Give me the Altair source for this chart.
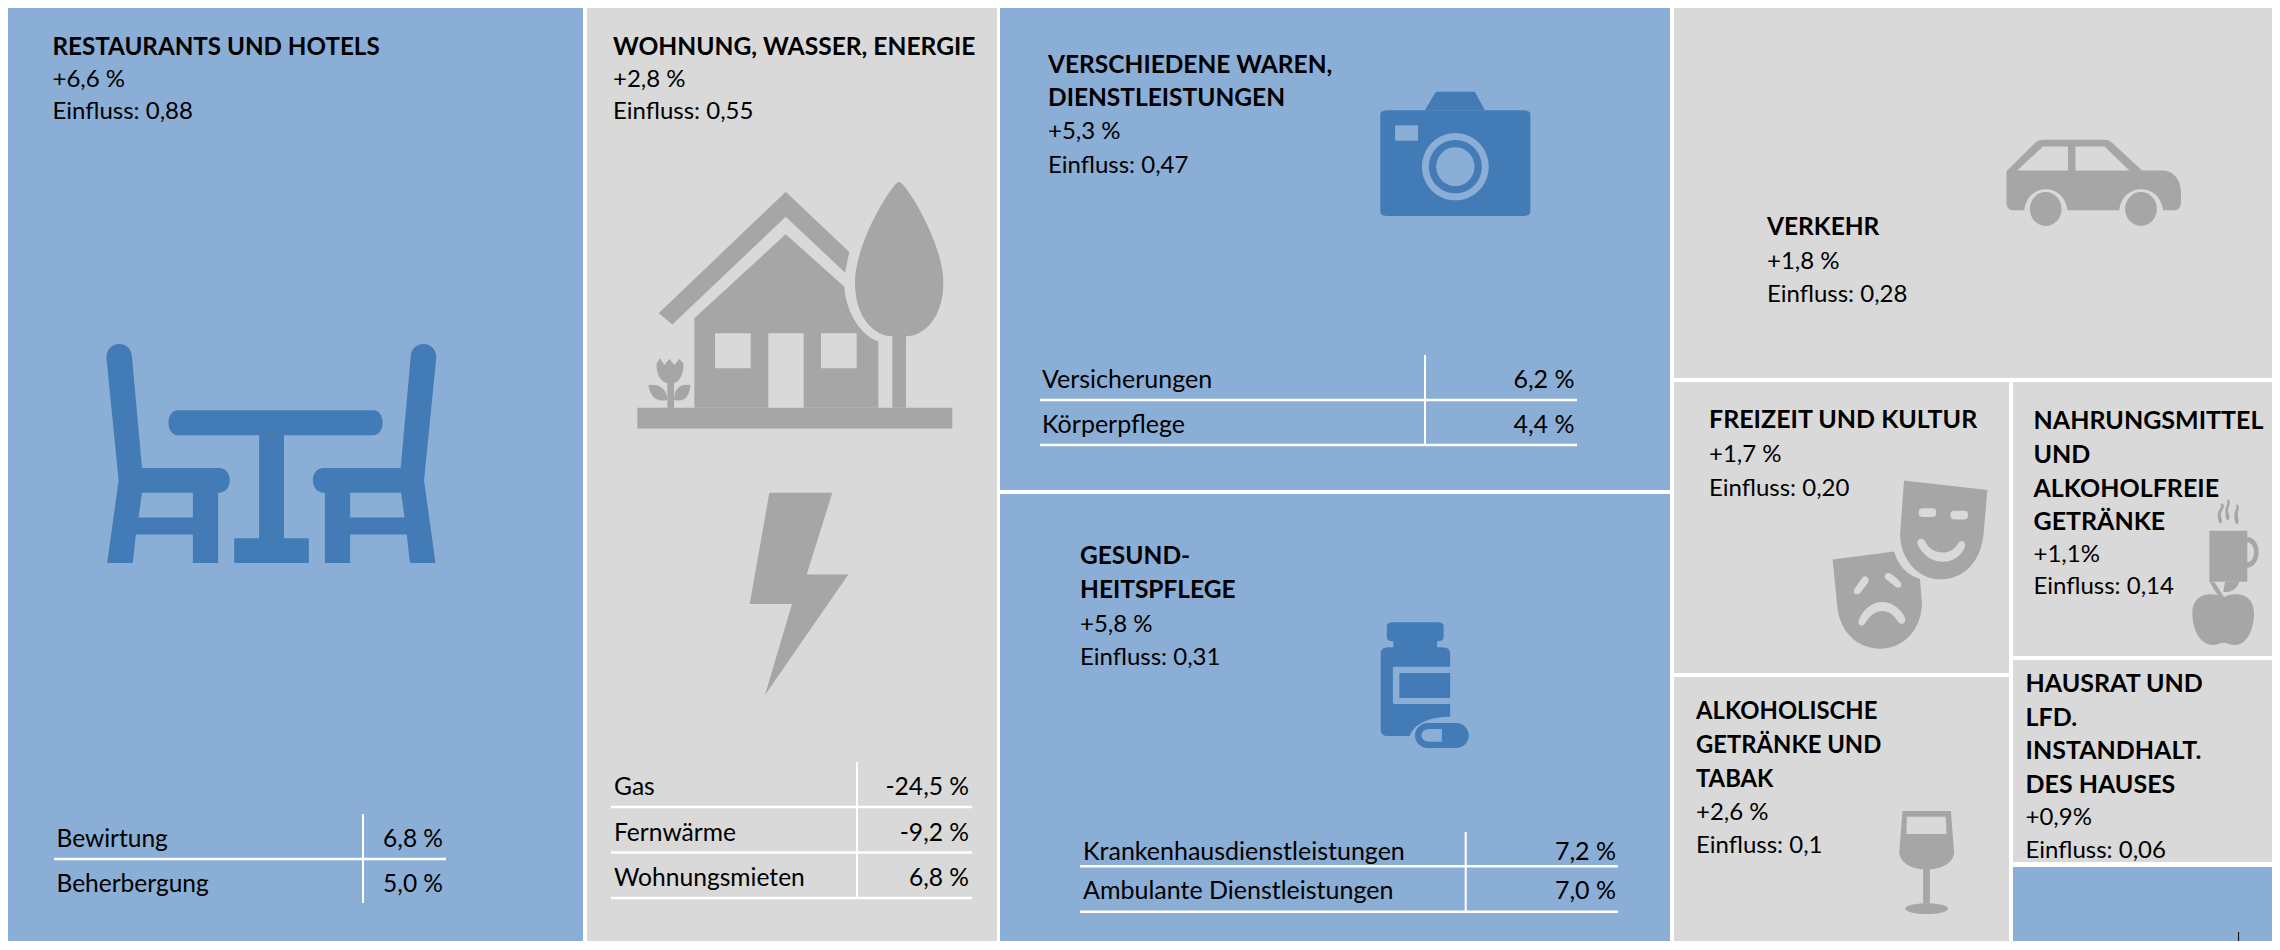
import re
import altair as alt
import pandas as pd

# ---- content -------------------------------------------------------------
categories = [
    ["RESTAURANTS UND HOTELS"],
    ["WOHNUNG, WASSER, ENERGIE"],
    ["VERSCHIEDENE WAREN,", "DIENSTLEISTUNGEN"],
    ["GESUND-", "HEITSPFLEGE"],
    ["VERKEHR"],
    ["FREIZEIT UND KULTUR"],
    ["NAHRUNGSMITTEL", "UND", "ALKOHOLFREIE", "GETRÄNKE"],
    ["ALKOHOLISCHE", "GETRÄNKE UND", "TABAK"],
    ["HAUSRAT UND", "LFD.", "INSTANDHALT.", "DES HAUSES"],
]
changes = ["+6,6 %", "+2,8 %", "+5,3 %", "+5,8 %", "+1,8 %", "+1,7 %", "+1,1%", "+2,6 %", "+0,9%"]
influences = ["Einfluss: 0,88", "Einfluss: 0,55", "Einfluss: 0,47", "Einfluss: 0,31", "Einfluss: 0,28",
              "Einfluss: 0,20", "Einfluss: 0,14", "Einfluss: 0,1", "Einfluss: 0,06"]
sub_names = [["Bewirtung", "Beherbergung"], ["Gas", "Fernwärme", "Wohnungsmieten"],
             ["Versicherungen", "Körperpflege"], ["Krankenhausdienstleistungen", "Ambulante Dienstleistungen"]]
sub_values = [["6,8 %", "5,0 %"], ["-24,5 %", "-9,2 %", "6,8 %"], ["6,2 %", "4,4 %"], ["7,2 %", "7,0 %"]]

# ---- layout (in the reference's pixel space) --------------------------------
BLUE, GREY, DBLUE, DGREY = "#8AAED5", "#D9D9D9", "#427BB5", "#A6A6A6"
tile_x0 = [5, 587, 1000, 1000, 1674, 1674, 2013, 1674, 2013, 2013]
tile_x1 = [583, 997, 1670, 1670, 2280, 2009, 2280, 2009, 2280, 2280]
tile_y0 = [1, 1, 2, 494, 2, 382, 382, 677, 660, 867]
tile_y1 = [950, 950, 490, 950, 378, 673, 656, 950, 862, 950]
tile_fill = [BLUE, GREY, BLUE, BLUE, GREY, GREY, GREY, GREY, GREY, BLUE]

text_x = [52.5, 613, 1048, 1080, 1767, 1709, 2033.5, 1696, 2025.5]
head_y = [[54.5], [54.5], [72.7, 105.7], [564, 597.7], [235], [428], [429, 463, 496.5, 530],
          [719.3, 753, 786.7], [692, 726, 759, 793]]
change_y = [86.7, 86.7, 139, 631.7, 269, 462, 562.4, 820, 825]
influence_y = [118.8, 118.8, 173, 665, 302, 495.7, 594, 853, 857.6]
head_size = [24.2, 24.6, 24.5, 24.5, 24.5, 25, 25, 23.8, 25]
body_size = [24, 24, 24, 24, 24, 24, 24, 24, 24]

sub_x = [56.5, 614, 1042, 1083]
sub_right = [443, 969, 1574.5, 1616]
sub_y = [[847, 892], [795, 841, 886], [388, 432.7], [860, 898.7]]
sub_size = [24.5, 24.6, 25, 25]
hrule_x0 = [54, 611, 1040, 1080]
hrule_x1 = [446, 972, 1577, 1618]
hrule_y = [[859], [807, 852.5, 898], [400, 445], [866.3, 911.7]]
vrule_x = [363, 857, 1425, 1465.7]
vrule_y0 = [814, 762, 355, 832]
vrule_y1 = [903, 898, 445, 911.7]

# ---- tables -----------------------------------------------------------------
tiles = pd.DataFrame({"x": tile_x0, "x2": tile_x1, "y": tile_y0, "y2": tile_y1, "fill": tile_fill})

head_rows, body_rows = [], []
for i, lines in enumerate(categories):
    for t, yy in zip(lines, head_y[i]):
        head_rows.append({"x": text_x[i], "y": yy, "t": t, "s": head_size[i]})
    body_rows.append({"x": text_x[i], "y": change_y[i], "t": changes[i], "s": body_size[i]})
    body_rows.append({"x": text_x[i], "y": influence_y[i], "t": influences[i], "s": body_size[i]})
val_rows, rule_rows = [], []
for i, names in enumerate(sub_names):
    for n, v, yy in zip(names, sub_values[i], sub_y[i]):
        body_rows.append({"x": sub_x[i], "y": yy, "t": n, "s": sub_size[i]})
        val_rows.append({"x": sub_right[i], "y": yy, "t": v, "s": sub_size[i]})
    for yy in hrule_y[i]:
        rule_rows.append({"x": hrule_x0[i], "x2": hrule_x1[i], "y": yy, "y2": yy, "c": "#FFFFFF", "w": 2.5})
    rule_rows.append({"x": vrule_x[i], "x2": vrule_x[i], "y": vrule_y0[i], "y2": vrule_y1[i], "c": "#FFFFFF", "w": 2})
rule_rows.append({"x": 2238.6, "x2": 2238.6, "y": 932, "y2": 950, "c": "#000000", "w": 1})

# ---- icons: outlines traced in zoomed-crop units, rescaled to pixels ---------
NUM = re.compile(r"-?\d+\.?\d*")
def scaled(path, sx, sy):
    n = [0]
    def rep(m):
        k = n[0]; n[0] += 1
        return f"{float(m.group()) / (sx if k % 2 == 0 else sy):.2f}"
    return NUM.sub(rep, path)
def rect(a, b, c, d):
    return f"M{a} {b}L{c} {b}L{c} {d}L{a} {d}Z"
def ell(cx, cy, rx, ry):
    k = 0.5523
    return (f"M{cx-rx} {cy}C{cx-rx} {cy-k*ry} {cx-k*rx} {cy-ry} {cx} {cy-ry}"
            f"C{cx+k*rx} {cy-ry} {cx+rx} {cy-k*ry} {cx+rx} {cy}"
            f"C{cx+rx} {cy+k*ry} {cx+k*rx} {cy+ry} {cx} {cy+ry}"
            f"C{cx-k*rx} {cy+ry} {cx-rx} {cy+k*ry} {cx-rx} {cy}Z")
def rrect(a, b, c, d, rx, ry):
    return (f"M{a+rx} {b}L{c-rx} {b}Q{c} {b} {c} {b+ry}L{c} {d-ry}Q{c} {d} {c-rx} {d}"
            f"L{a+rx} {d}Q{a} {d} {a} {d-ry}L{a} {b+ry}Q{a} {b} {a+rx} {b}Z")

icons = []
def add(ox, oy, sx, sy, color, *paths):
    for p in paths:
        icons.append({"x": ox, "y": oy, "shape": scaled(p, sx, sy), "c": color})

# restaurant
chair_l = ("M278 590C278 560 345 560 345 590L371 772L572 772C610 772 610 813 572 813L570 813L570 929L504 929"
           "L504 882L355 882L347 929L280 929L310 793Z")
chair_r = ("M1140 590C1140 560 1073 560 1073 590L1047 772L846 772C808 772 808 813 846 813L849 813L849 929L915 929"
           "L915 882L1063 882L1071 929L1138 929L1108 793Z")
table = ("M465 677L975 677C1008 677 1008 718 975 718L742 718L742 888L807 888L807 929L612 929L612 888L677 888"
         "L677 718L465 718C432 718 432 677 465 677Z")
add(0, 0, 2.613, 1.65, DBLUE, chair_l, chair_r, table)
add(0, 0, 2.613, 1.65, BLUE, "M371 813L504 813L504 854L362 854Z", "M915 813L1048 813L1057 854L915 854Z")

# house, tree, flower, lightning
add(580, 150, 3, 1.96, DGREY,
    rect(172, 505, 1117, 546),
    "M236 320L617 82L808 200L795 240L617 131L277 342Z",
    "M343 505L343 330L617 165L793 268C798 320 845 365 895 375L895 505Z",
    "M957 62C975 62 1090 180 1090 260C1090 330 1030 365 978 365L978 505L937 505L937 365"
    "C885 365 825 330 825 260C825 180 940 62 957 62Z",
    "M509 890L568 672L757 672L680 832L805 832L555 1068L636 890Z")
add(580, 150, 3, 1.96, GREY, rect(405, 359, 512, 428), rect(723, 359, 830, 428), rect(565, 359, 671, 505))
add(630, 340, 3, 3, DGREY,
    "M80 70L90 55L103 75L118 57L133 75L148 57L160 70C162 100 150 125 132 130L132 205L112 205L112 130"
    "C90 125 78 100 80 70Z",
    "M55 135C90 130 112 150 112 180C75 188 60 165 55 135Z",
    "M182 135C147 130 132 150 132 180C169 188 177 165 182 135Z")

# camera
add(1000, 0, 2.306, 3, DBLUE,
    rrect(877, 331, 1223, 648, 18, 12), "M980 331L1005 275L1095 275L1118 331Z")
add(1000, 0, 2.306, 3, BLUE, rect(911, 376, 964, 422), ell(1050, 500, 77, 101))
add(1000, 0, 2.306, 3, DBLUE, ell(1050, 500, 61, 80))
add(1000, 0, 2.306, 3, BLUE, ell(1050, 500, 44, 58))

# pill bottle
add(1000, 490, 2.306, 3, DBLUE,
    rrect(892, 397, 1023, 454, 14, 12), rect(907, 450, 1008, 476),
    "M895 472L1020 472Q1038 472 1038 490L1038 680C990 680 955 700 945 738L895 738Q878 738 878 720L878 490Q878 472 895 472Z")
add(1000, 490, 2.306, 3, BLUE, rrect(906, 530, 1040, 642, 8, 3))
add(1000, 490, 2.306, 3, DBLUE, rect(921, 549, 1038, 624), ell(986, 736.5, 29, 37.5), ell(1052, 736.5, 29, 37.5), rect(986, 699, 1052, 774))
add(1000, 490, 2.306, 3, BLUE, "M1019 717L1019 755L990 755C966 755 966 717 990 717Z")

# car
add(1660, 0, 2.52, 2.306, DGREY,
    "M873 395L945 330Q955 322 965 322L1120 322Q1132 322 1140 330L1215 393L1265 393C1295 393 1313 415 1313 445"
    "L1313 465C1313 478 1305 485 1295 485L1268 485C1260 420 1165 420 1157 485L1027 485C1019 420 926 420 918 485"
    "L890 485C880 485 873 478 873 465Z",
    ell(972, 482, 40, 39), ell(1212, 482, 40, 39))
add(1660, 0, 2.52, 2.306, GREY,
    "M900 393L965 338L1028 338L1028 393Z", "M1047 338L1120 338L1183 393L1047 393Z")

# masks
add(1660, 0, 2.52, 2.306, DGREY,
    "M615 1108L825 1130L815 1235C808 1295 765 1336 708 1336C650 1336 605 1290 605 1230Z",
    "M435 1290L590 1272C600 1305 625 1328 655 1335L660 1390C660 1450 615 1496 555 1496C495 1496 453 1455 447 1400Z")
add(1660, 0, 2.52, 2.306, GREY,
    rrect(652, 1172, 696, 1192, 10, 8), rrect(732, 1178, 776, 1198, 10, 8),
    "M648 1252C650 1240 662 1240 668 1248C685 1282 735 1282 752 1252C758 1244 772 1246 768 1262C748 1308 672 1308 648 1252Z",
    "M490 1358L510 1332C518 1324 530 1334 524 1344L504 1368C494 1374 484 1368 490 1358Z",
    "M572 1322C580 1318 606 1340 608 1346C610 1356 598 1358 592 1352L570 1336C564 1330 566 1324 572 1322Z",
    "M500 1432C525 1375 590 1375 618 1425C620 1440 606 1442 600 1434C580 1400 540 1400 518 1436C510 1448 498 1442 500 1432Z")

# wine glass
add(1660, 640, 2.52, 3, DGREY,
    "M611 513L733 513L741 635C741 665 715 685 680 688L680 790L663 790L663 688C630 685 603 665 603 635Z",
    ell(672, 806, 54, 16))
add(1660, 640, 2.52, 3, GREY, "M622 530L720 530L722 582L621 582Z")

# mug, steam, apple
add(2180, 490, 3, 3, DGREY, ell(202, 187, 34, 46))
add(2180, 490, 3, 3, GREY, ell(202, 187, 20, 30))
add(2180, 490, 3, 3, DGREY,
    rect(88, 122, 202, 275),
    "M135 275L178 275C170 300 150 308 130 306Z",
    "M88 272L105 278L135 326L122 326L100 296Z",
    "M130 322C100 305 37 305 37 370C37 420 60 465 100 465C112 465 120 458 130 458C140 458 150 465 165 465"
    "C200 465 222 420 222 370C222 305 160 305 130 322Z",
    "M113 72C113 60 126 55 122 45C120 40 128 38 131 46C134 58 120 66 123 78C126 88 128 96 122 100"
    "C116 102 114 90 113 72Z",
    "M136 62C136 48 146 42 141 32C139 28 147 26 149 34C152 46 142 54 145 66C148 76 151 84 145 90"
    "C139 92 136 80 136 62Z",
    "M163 75C163 62 172 56 168 47C166 43 174 41 176 49C178 60 171 68 174 80C176 90 178 96 172 102"
    "C166 104 163 92 163 75Z")
add(2180, 490, 3, 3, GREY, "M104 277L135 277L122 296Z")

# ---- chart ------------------------------------------------------------------
# the page's own 8px margin is subtracted so reference coordinates land in place
W, H = 2264, 933
xs = alt.Scale(domain=[8, 8 + W], range=[0, W], nice=False, zero=False)
ys = alt.Scale(domain=[8, 8 + H], range=[0, H], nice=False, zero=False)
X = alt.X("x:Q", scale=xs, axis=None)
Y = alt.Y("y:Q", scale=ys, axis=None)
S = alt.Size("s:Q", scale=None)

rects = alt.Chart(tiles).mark_rect(strokeWidth=0).encode(
    x=X, x2="x2:Q", y=Y, y2="y2:Q", color=alt.Color("fill:N", scale=None))
glyphs = alt.Chart(pd.DataFrame(icons)).mark_point(filled=True, opacity=1, size=4, strokeWidth=0).encode(
    x=X, y=Y, shape=alt.Shape("shape:N", scale=None, legend=None), color=alt.Color("c:N", scale=None))
rules = alt.Chart(pd.DataFrame(rule_rows)).mark_rule().encode(
    x=X, x2="x2:Q", y=Y, y2="y2:Q", color=alt.Color("c:N", scale=None),
    strokeWidth=alt.StrokeWidth("w:Q", scale=None))
FONT = "Lato"
heads = alt.Chart(pd.DataFrame(head_rows)).mark_text(
    font=FONT, fontWeight="bold", align="left", baseline="alphabetic", color="#000000"
).encode(x=X, y=Y, text="t:N", size=S)
bodies = alt.Chart(pd.DataFrame(body_rows)).mark_text(
    font=FONT, align="left", baseline="alphabetic", color="#000000"
).encode(x=X, y=Y, text="t:N", size=S)
vals = alt.Chart(pd.DataFrame(val_rows)).mark_text(
    font=FONT, align="right", baseline="alphabetic", color="#000000"
).encode(x=X, y=Y, text="t:N", size=S)

chart = alt.layer(rects, glyphs, rules, heads, bodies, vals).properties(
    width=W, height=H, padding=0, autosize=alt.AutoSizeParams(type="none"), background="#FFFFFF"
).configure_view(strokeWidth=0)
chart.save("out.html", embed_options={"renderer": "svg", "actions": False})
